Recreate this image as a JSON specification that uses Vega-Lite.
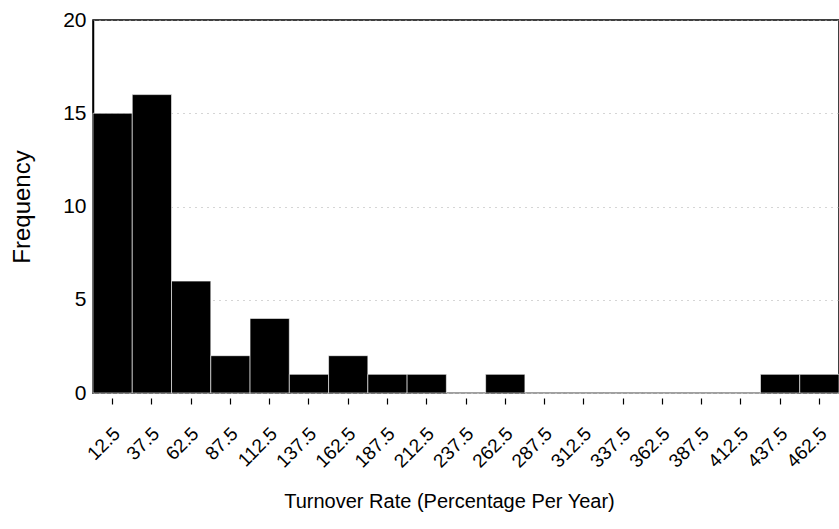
{
  "$schema": "https://vega.github.io/schema/vega-lite/v6.json",
  "autosize": "none",
  "width": 746,
  "height": 373,
  "padding": {"left": 93, "top": 20, "right": 0, "bottom": 136},
  "background": "white",
  "config": {
    "view": {"stroke": "black", "strokeWidth": 1.5},
    "font": "Liberation Sans"
  },
  "data": {
    "values": [
      {"bin": "12.5", "freq": 15},
      {"bin": "37.5", "freq": 16},
      {"bin": "62.5", "freq": 6},
      {"bin": "87.5", "freq": 2},
      {"bin": "112.5", "freq": 4},
      {"bin": "137.5", "freq": 1},
      {"bin": "162.5", "freq": 2},
      {"bin": "187.5", "freq": 1},
      {"bin": "212.5", "freq": 1},
      {"bin": "237.5", "freq": 0},
      {"bin": "262.5", "freq": 1},
      {"bin": "287.5", "freq": 0},
      {"bin": "312.5", "freq": 0},
      {"bin": "337.5", "freq": 0},
      {"bin": "362.5", "freq": 0},
      {"bin": "387.5", "freq": 0},
      {"bin": "412.5", "freq": 0},
      {"bin": "437.5", "freq": 1},
      {"bin": "462.5", "freq": 1}
    ]
  },
  "mark": {"type": "bar", "color": "black", "stroke": "white", "strokeWidth": 0.6},
  "encoding": {
    "x": {
      "field": "bin",
      "type": "ordinal",
      "sort": null,
      "scale": {"paddingInner": 0, "paddingOuter": 0},
      "axis": {
        "title": "Turnover Rate (Percentage Per Year)",
        "titleFontSize": 20,
        "titleFontWeight": "normal",
        "titleColor": "black",
        "titlePadding": 20,
        "titleX": 356,
        "labelAngle": -45,
        "labelFontSize": 19,
        "labelColor": "black",
        "labelPadding": 20,
        "labelOffset": -2,
        "offset": 5,
        "domain": false,
        "tickColor": "black",
        "tickSize": 6,
        "tickWidth": 1.2
      }
    },
    "y": {
      "field": "freq",
      "type": "quantitative",
      "scale": {"domain": [0, 20]},
      "axis": {
        "title": "Frequency",
        "titleFontSize": 24,
        "titleFontWeight": "normal",
        "titleColor": "black",
        "titlePadding": 28,
        "values": [0, 5, 10, 15, 20],
        "labelFontSize": 21,
        "labelColor": "black",
        "labelPadding": 7,
        "ticks": false,
        "domainColor": "black",
        "domainWidth": 1.5,
        "grid": true,
        "gridColor": "#aaaaaa",
        "gridDash": [1, 5],
        "gridWidth": 1
      }
    }
  }
}
